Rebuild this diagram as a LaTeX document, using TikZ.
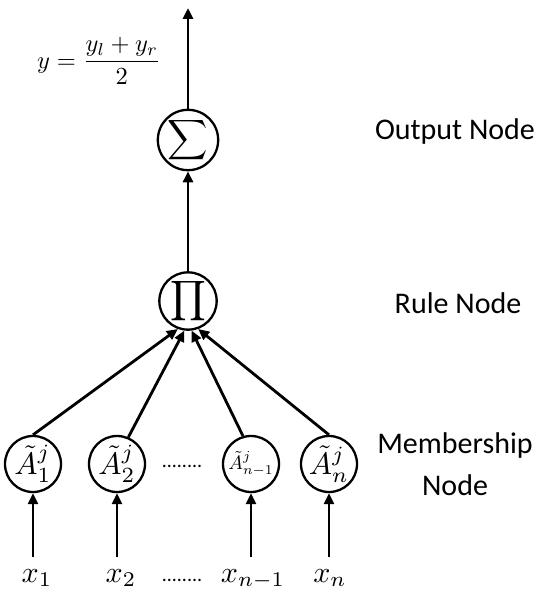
\documentclass[tikz,border=0pt]{standalone}
\usepackage{graphicx}
\usepackage[no-math]{fontspec}
\setmainfont{Carlito}
\usetikzlibrary{arrows.meta}
\newcommand{\bigmath}[2]{\scalebox{#1}{$\displaystyle #2$}}
\begin{document}
\begin{tikzpicture}[x=1pt,y=-1pt,
  neuron/.style={circle, draw, line width=2.3pt, minimum size=56pt, inner sep=0pt},
  link/.style={line width=2.8pt, -{Triangle[length=11pt,width=10pt]}},
  lab/.style={font=\fontsize{30}{42}\selectfont, align=center},
  dots/.style={font=\fontsize{20}{24}\selectfont}]
\useasboundingbox (0,0) rectangle (541,593);

% output and rule nodes
\node[neuron] (S) at (188,140) {\bigmath{2.8}{\sum}};
\node[neuron] (P) at (188,301) {\bigmath{2.8}{\prod}};

% membership nodes
\node[neuron] (A1) at (33,464) {\bigmath{3.1}{\tilde{A}_1^j}};
\node[neuron] (A2) at (117,464) {\bigmath{3.1}{\tilde{A}_2^j}};
\node[neuron] (A3) at (251,464) {\bigmath{1.95}{\tilde{A}_{n-1}^j}};
\node[neuron] (A4) at (329,464) {\bigmath{3.1}{\tilde{A}_n^j}};
\node[dots] (d1) at (182,466) {........};

% inputs
\node[anchor=base] (x1) at (37,582) {\bigmath{3.0}{x_1}};
\node[anchor=base] (x2) at (121,582) {\bigmath{3.0}{x_2}};
\node[anchor=base] (x3) at (253,582) {\bigmath{3.0}{x_{n-1}}};
\node[anchor=base] (x4) at (330,582) {\bigmath{3.0}{x_n}};
\node[dots] (d2) at (182,580) {........};

\coordinate (i1) at (33,557);
\coordinate (i2) at (117,557);
\coordinate (i3) at (251,557);
\coordinate (i4) at (329,557);
\coordinate (out) at (188,8);

% output formula
\node (f) at (99,61) {\bigmath{2.45}{y=\frac{y_l+y_r}{2}}};

% layer labels
\node[lab] (lo) at (455,132) {Output Node};
\node[lab] (lr) at (458,303) {Rule Node};
\node[lab] (lm) at (455,464) {Membership\\Node};

% connectors
\draw[link] (i1) -- (A1);
\draw[link] (i2) -- (A2);
\draw[link] (i3) -- (A3);
\draw[link] (i4) -- (A4);
\draw[link] (A1.north) -- (P.250);
\draw[link] (A2.67) -- (P.263);
\draw[link] (A3.106) -- (P.277);
\draw[link] (A4.north) -- (P.290);
\draw[link] (P) -- (S);
\draw[link] (S) -- (out);
\end{tikzpicture}
\end{document}
